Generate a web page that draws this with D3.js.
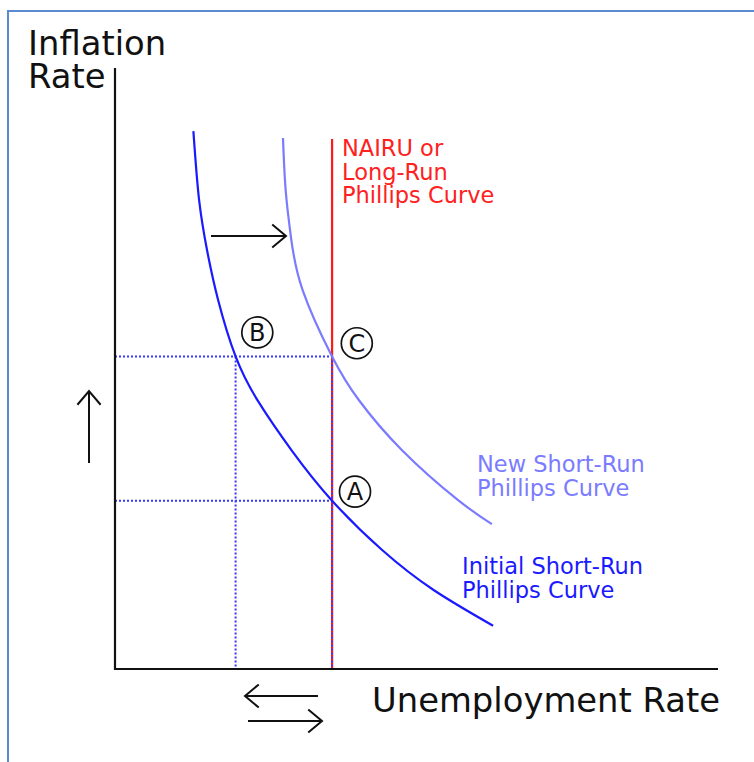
<!DOCTYPE html>
<html>

<head>
    <meta charset="UTF-8">
    <title>Phillips Curve Shift</title>
    <script src="https://cdn.jsdelivr.net/npm/d3@7"></script>
    <style>
        body { margin: 0; background: #fff; }
        svg text { font-family: "DejaVu Sans", sans-serif; }
    </style>
</head>

<body>
    <script>
        // curves: [unemployment, inflation] in 0..100 units
        const initialCurve = [[13, 89.5], [13.95, 78], [15.3, 69.5], [17.1, 61.4], [20, 52], [23.7, 44.6],
            [29.35, 36.3], [36, 28], [44.3, 19.8], [52.9, 13.1], [62.7, 7.2]];
        const newCurve = [[27.86, 88.35], [28.3, 79.7], [29.2, 71.7], [31.1, 63.1], [36, 52], [40.4, 44.8],
            [47.6, 36.4], [56.9, 28.1], [62.5, 24.1]];
        const nairu = 36;
        const nairuTop = 88.2;
        const uB = 20;
        const piA = 28;
        const piB = 52;
        const points = [
            { label: 'A', u: 39.8, pi: 29.5 },
            { label: 'B', u: 23.6, pi: 56 },
            { label: 'C', u: 40.1, pi: 54.2 }
        ];
        const yTitle = ['Inflation', 'Rate'];
        const xTitle = 'Unemployment Rate';
        const lrpcLabel = ['NAIRU or', 'Long-Run', 'Phillips Curve'];
        const newLabel = ['New Short-Run', 'Phillips Curve'];
        const initLabel = ['Initial Short-Run', 'Phillips Curve'];

        const width = 754;
        const height = 762;

        const x = d3.scaleLinear().domain([0, 100]).range([115, 718]);
        const y = d3.scaleLinear().domain([0, 100]).range([669, 68]);

        const svg = d3.select('body')
            .append('svg')
            .attr('width', width)
            .attr('height', height);

        // frame
        svg.append('path')
            .attr('d', `M8,${height} V11 H${width}`)
            .attr('fill', 'none')
            .attr('stroke', '#5a8ad0')
            .attr('stroke-width', 2);

        const line = d3.line().x(d => x(d[0])).y(d => y(d[1])).curve(d3.curveNatural);

        // LRPC
        svg.append('line')
            .attr('x1', x(nairu)).attr('x2', x(nairu))
            .attr('y1', y(0)).attr('y2', y(nairuTop))
            .attr('stroke', '#ff1a1a')
            .attr('stroke-width', 2.2);

        // dotted guides
        const dotted = svg.append('g')
            .attr('stroke', '#3838ff')
            .attr('stroke-width', 2)
            .attr('stroke-dasharray', '2,2');
        [[[0, piB], [nairu, piB]], [[0, piA], [nairu, piA]], [[uB, piB], [uB, 0]], [[nairu, piB], [nairu, 0]]]
            .forEach(seg => dotted.append('line')
                .attr('x1', x(seg[0][0])).attr('y1', y(seg[0][1]))
                .attr('x2', x(seg[1][0])).attr('y2', y(seg[1][1])));

        svg.append('path')
            .datum(newCurve)
            .attr('d', line)
            .attr('fill', 'none')
            .attr('stroke', '#7b7bff')
            .attr('stroke-width', 2.2);

        svg.append('path')
            .datum(initialCurve)
            .attr('d', line)
            .attr('fill', 'none')
            .attr('stroke', '#1a1aff')
            .attr('stroke-width', 2.2);

        // axes
        svg.append('path')
            .attr('d', `M${x(0)},${y(100)} V${y(0)} H${x(100)}`)
            .attr('fill', 'none')
            .attr('stroke', '#111')
            .attr('stroke-width', 2.2);

        // circled points
        const pt = svg.selectAll('g.pt')
            .data(points)
            .join('g')
            .attr('class', 'pt')
            .attr('transform', d => `translate(${x(d.u)},${y(d.pi)})`);
        pt.append('circle')
            .attr('r', 15.5)
            .attr('fill', '#fff')
            .attr('stroke', '#111')
            .attr('stroke-width', 1.7);
        pt.append('text')
            .attr('text-anchor', 'middle')
            .attr('dy', '0.36em')
            .attr('font-size', 24)
            .attr('fill', '#111')
            .text(d => d.label);

        // arrows
        const arrow = (x1, y1, x2, y2) => {
            const a = Math.atan2(y2 - y1, x2 - x1);
            const h = 18, s = 0.7;
            const p1 = [x2 - h * Math.cos(a - s), y2 - h * Math.sin(a - s)];
            const p2 = [x2 - h * Math.cos(a + s), y2 - h * Math.sin(a + s)];
            svg.append('path')
                .attr('d', `M${x1},${y1} L${x2},${y2} M${p1} L${x2},${y2} L${p2}`)
                .attr('fill', 'none')
                .attr('stroke', '#111')
                .attr('stroke-width', 2);
        };
        arrow(211, 236, 286, 236);
        arrow(89, 463, 89, 391);
        arrow(318, 696, 245, 696);
        arrow(248, 721, 322, 721);

        // texts
        svg.append('text')
            .attr('font-size', 33.8)
            .attr('fill', '#111')
            .selectAll('tspan')
            .data(yTitle)
            .join('tspan')
            .attr('x', 28)
            .attr('y', (d, i) => 55 + i * 33)
            .text(d => d);

        svg.append('text')
            .attr('x', 372)
            .attr('y', 712)
            .attr('font-size', 33.8)
            .attr('fill', '#111')
            .text(xTitle);

        const block = (lines, x0, y0, color, lh) => {
            svg.append('text')
                .attr('font-size', 22.5)
                .attr('fill', color)
                .selectAll('tspan')
                .data(lines)
                .join('tspan')
                .attr('x', x0)
                .attr('y', (d, i) => y0 + i * lh)
                .text(d => d);
        };
        block(lrpcLabel, 342, 156, '#ff2020', 23.5);
        block(newLabel, 477, 472, '#7b7bff', 23.5);
        block(initLabel, 462, 574, '#1a1aff', 24);
    </script>
</body>

</html>
